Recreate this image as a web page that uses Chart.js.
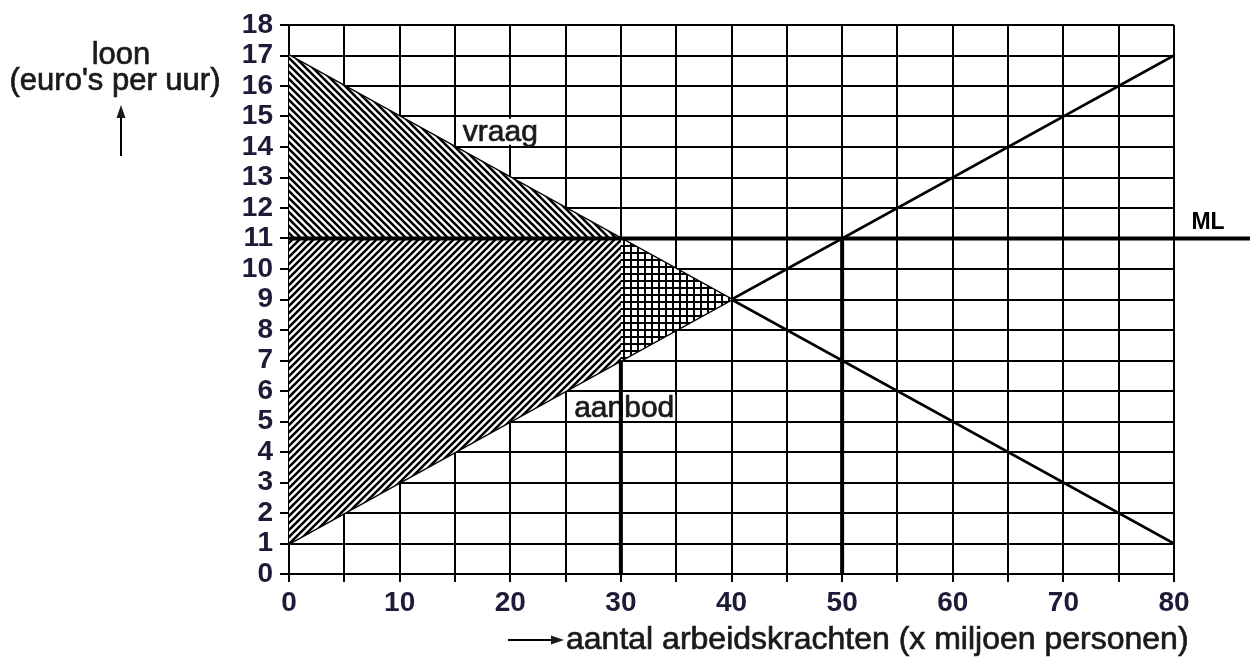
<!DOCTYPE html>
<html>
<head>
<meta charset="utf-8">
<script src="https://cdn.jsdelivr.net/npm/chart.js@4/dist/chart.umd.min.js"></script>
<style>
  html, body { margin: 0; padding: 0; background: #fff; }
  #wrap { width: 1250px; height: 661px; }
</style>
</head>
<body>
<div id="wrap"><canvas id="c" width="1250" height="661"></canvas></div>
<script>
// ---- data ----
const xTickValues = [0, 10, 20, 30, 40, 50, 60, 70, 80];
const yTickValues = [0,1,2,3,4,5,6,7,8,9,10,11,12,13,14,15,16,17,18];
const demandX = [0, 80];
const demandY = [17, 1];
const supplyX = [0, 80];
const supplyY = [1, 17];
const minimumWage = 11;               // ML
const mlVerticalX = [30, 50];          // quantity demanded / supplied at ML
const upperHatchX = [0, 30];
const upperHatchY = [17, 11];
const lowerHatchX = [0, 30];
const lowerHatchY = [1, 7];
const crossX = [30, 40];
const crossDemandY = [11, 9];
const crossSupplyY = [7, 9];
const labels = { demand: 'vraag', supply: 'aanbod', ml: 'ML' };
const labelPos = { demand: [19.1, 14.5], supply: [30.3, 5.45] };
const yTitle = ['loon', "(euro's per uur)"];
const xTitle = 'aantal arbeidskrachten (x miljoen personen)';

// ---- helpers ----
const pts = (xs, ys) => xs.map((x, i) => ({ x, y: ys[i] }));
function hatch(dir) {
  const p = 7;
  const c = document.createElement('canvas'); c.width = p; c.height = p;
  const g = c.getContext('2d');
  g.fillStyle = '#fff'; g.fillRect(0, 0, p, p);
  g.strokeStyle = '#000'; g.lineWidth = 2.6; g.beginPath();
  for (let k = -1; k <= 1; k++) {
    if (dir === 'back') { g.moveTo(k * p - 1, -1); g.lineTo(k * p + p + 1, p + 1); }
    else { g.moveTo(k * p - 1, p + 1); g.lineTo(k * p + p + 1, -1); }
  }
  g.stroke();
  return g.createPattern(c, 'repeat');
}
function cross() {
  const p = 7;
  const c = document.createElement('canvas'); c.width = p; c.height = p;
  const g = c.getContext('2d');
  g.fillStyle = '#fff'; g.fillRect(0, 0, p, p);
  g.fillStyle = '#000';
  g.fillRect(0, 0, 2, p); g.fillRect(0, 0, p, 2);
  return g.createPattern(c, 'repeat');
}

const FONT = "'Liberation Sans', Arial, sans-serif";
const tickColor = '#1c1c38';

function heavyText(ctx, txt, x, y) {
  ctx.fillText(txt, x, y);
  ctx.lineWidth = 0.7;
  ctx.strokeStyle = ctx.fillStyle;
  ctx.strokeText(txt, x, y);
}

const base = { pointRadius: 0, pointHoverRadius: 0, tension: 0, borderColor: '#000' };

const datasets = [
  Object.assign({}, base, { data: pts(upperHatchX, upperHatchY), borderWidth: 0, fill: { value: minimumWage }, backgroundColor: hatch('back') }),
  Object.assign({}, base, { data: pts(lowerHatchX, lowerHatchY), borderWidth: 0, fill: { value: minimumWage }, backgroundColor: hatch('fwd') }),
  Object.assign({}, base, { data: pts(crossX, crossDemandY), borderWidth: 0, fill: false }),
  Object.assign({}, base, { data: pts(crossX, crossSupplyY), borderWidth: 0, fill: '-1', backgroundColor: cross() }),
  Object.assign({}, base, { data: pts(demandX, demandY), borderWidth: 2.6, fill: false }),
  Object.assign({}, base, { data: pts(supplyX, supplyY), borderWidth: 2.6, fill: false }),
  Object.assign({}, base, { data: pts([mlVerticalX[0], mlVerticalX[0]], [0, minimumWage]), borderWidth: 4, fill: false }),
  Object.assign({}, base, { data: pts([mlVerticalX[1], mlVerticalX[1]], [0, minimumWage]), borderWidth: 4, fill: false }),
];

const annot = {
  id: 'annot',
  beforeDatasetsDraw(chart) {
    const { ctx, scales: { x, y } } = chart;
    ctx.save();
    ctx.font = '30px ' + FONT;
    ctx.textAlign = 'center'; ctx.textBaseline = 'middle';
    for (const k of ['demand', 'supply']) {
      const px = x.getPixelForValue(labelPos[k][0]);
      const py = y.getPixelForValue(labelPos[k][1]);
      const w = ctx.measureText(labels[k]).width;
      ctx.fillStyle = '#fff';
      ctx.fillRect(px - w / 2 - 1, py - 13, w + 2, 26);
      ctx.fillStyle = '#1a1a1a';
      heavyText(ctx, labels[k], px, py + 1);
    }
    ctx.restore();
  },
  afterDatasetsDraw(chart) {
    const { ctx, scales: { x, y } } = chart;
    ctx.save();
    // ML line extending beyond plot
    const yml = y.getPixelForValue(minimumWage);
    ctx.strokeStyle = '#000'; ctx.lineWidth = 4;
    ctx.beginPath(); ctx.moveTo(x.getPixelForValue(0), yml); ctx.lineTo(chart.width, yml); ctx.stroke();
    ctx.fillStyle = '#000';
    ctx.font = 'bold 23px ' + FONT;
    ctx.textAlign = 'center'; ctx.textBaseline = 'middle';
    ctx.fillText(labels.ml, 1208, yml - 16);

    // y axis title
    ctx.fillStyle = '#1a1a1a';
    ctx.font = '31px ' + FONT;
    heavyText(ctx, yTitle[0], 121, 55);
    heavyText(ctx, yTitle[1], 115, 81);
    ctx.strokeStyle = '#000'; ctx.lineWidth = 2;
    ctx.beginPath(); ctx.moveTo(121, 156); ctx.lineTo(121, 114); ctx.stroke();
    ctx.beginPath(); ctx.moveTo(121, 105); ctx.lineTo(116.5, 118); ctx.lineTo(125.5, 118); ctx.closePath(); ctx.fill();

    // x axis title
    ctx.textAlign = 'left';
    ctx.font = '32px ' + FONT;
    heavyText(ctx, xTitle, 566, 640);
    ctx.strokeStyle = '#000'; ctx.lineWidth = 2;
    ctx.beginPath(); ctx.moveTo(508, 640); ctx.lineTo(553, 640); ctx.stroke();
    ctx.beginPath(); ctx.moveTo(564, 640); ctx.lineTo(551, 635.5); ctx.lineTo(551, 644.5); ctx.closePath(); ctx.fill();
    ctx.restore();
  }
};

new Chart(document.getElementById('c'), {
  type: 'line',
  data: { datasets },
  options: {
    responsive: false,
    devicePixelRatio: 1,
    animation: false,
    events: [],
    layout: { padding: { left: 0, right: 76, top: 25, bottom: 0 } },
    plugins: { legend: { display: false }, tooltip: { enabled: false }, title: { display: false } },
    scales: {
      x: {
        type: 'linear', min: 0, max: 80,
        afterFit(s) { s.height = 87; },
        afterBuildTicks(s) {
          const t = []; for (let v = 0; v <= 80; v += 5) t.push({ value: v }); s.ticks = t;
        },
        ticks: {
          autoSkip: false, maxRotation: 0, padding: 4, color: tickColor,
          font: { family: FONT, size: 28, weight: 'bold' },
          callback: (v) => xTickValues.includes(v) ? String(v) : ''
        },
        grid: { color: '#000', lineWidth: 2, tickLength: 8, drawTicks: true },
        border: { color: '#000', width: 2 }
      },
      y: {
        type: 'linear', min: 0, max: 18,
        afterFit(s) { s.width = 289; },
        afterBuildTicks(s) { s.ticks = yTickValues.map(v => ({ value: v })); },
        ticks: {
          autoSkip: false, padding: 7, color: tickColor,
          font: { family: FONT, size: 28, weight: 'bold' }
        },
        grid: { color: '#000', lineWidth: 2, tickLength: 9, drawTicks: true },
        border: { color: '#000', width: 2 }
      }
    }
  },
  plugins: [annot]
});
</script>
</body>
</html>
